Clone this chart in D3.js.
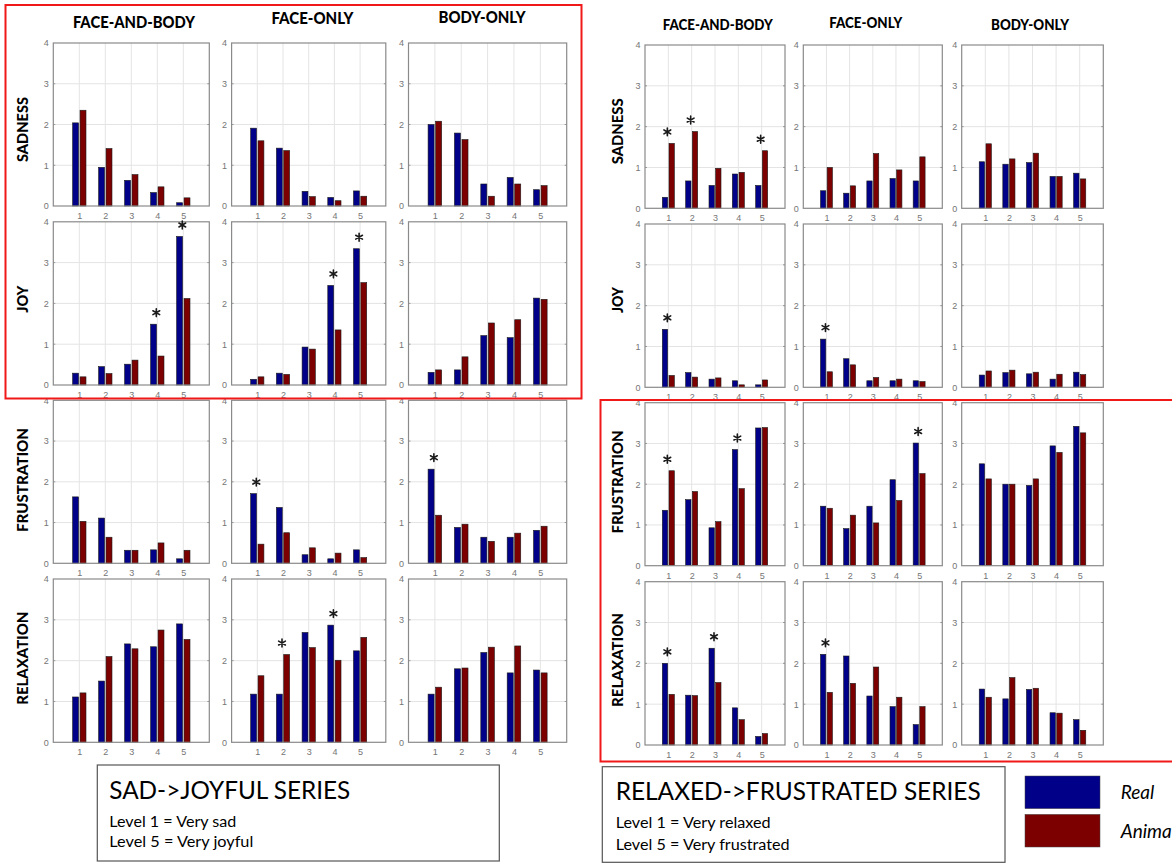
<!DOCTYPE html>
<html>
<head>
<meta charset="utf-8">
<script src="https://cdn.jsdelivr.net/npm/d3@7"></script>
<style>
  html, body { margin: 0; padding: 0; background: #ffffff; }
  svg { display: block; }
</style>
</head>
<body>
<svg id="chart" width="1172" height="863"></svg>
<script>
// ---------------- DATA ----------------
const levels = [1, 2, 3, 4, 5];
const conditions = ["FACE-AND-BODY", "FACE-ONLY", "BODY-ONLY"];
const emotions = ["SADNESS", "JOY", "FRUSTRATION", "RELAXATION"];
const yTicks = [0, 1, 2, 3, 4];
const seriesNames = ["Real", "Animated"];

// SAD->JOYFUL series, values indexed [condition][level]
const sjRealSadness      = [[2.04, 0.95, 0.63, 0.33, 0.08], [1.91, 1.42, 0.36, 0.21, 0.37], [2.00, 1.79, 0.54, 0.70, 0.40]];
const sjAnimSadness      = [[2.35, 1.41, 0.77, 0.47, 0.20], [1.60, 1.36, 0.23, 0.13, 0.24], [2.08, 1.63, 0.24, 0.54, 0.50]];
const sjRealJoy          = [[0.29, 0.45, 0.51, 1.49, 3.64], [0.14, 0.29, 0.93, 2.44, 3.34], [0.31, 0.37, 1.21, 1.16, 2.13]];
const sjAnimJoy          = [[0.20, 0.28, 0.61, 0.71, 2.12], [0.20, 0.26, 0.88, 1.35, 2.51], [0.37, 0.69, 1.52, 1.60, 2.10]];
const sjRealFrustration  = [[1.63, 1.11, 0.32, 0.33, 0.11], [1.71, 1.37, 0.21, 0.11, 0.33], [2.31, 0.88, 0.64, 0.64, 0.81]];
const sjAnimFrustration  = [[1.03, 0.64, 0.32, 0.50, 0.32], [0.47, 0.75, 0.38, 0.25, 0.14], [1.18, 0.96, 0.54, 0.74, 0.91]];
const sjRealRelaxation   = [[1.11, 1.50, 2.41, 2.34, 2.90], [1.18, 1.18, 2.69, 2.87, 2.24], [1.18, 1.80, 2.20, 1.70, 1.77]];
const sjAnimRelaxation   = [[1.21, 2.10, 2.29, 2.75, 2.52], [1.63, 2.15, 2.32, 2.01, 2.57], [1.35, 1.82, 2.33, 2.36, 1.70]];
// significant levels, indexed [emotion][condition]
const sjStars = [[[], [], []], [[4, 5], [4, 5], []], [[], [1], [1]], [[], [2, 4], []]];

// RELAXED->FRUSTRATED series
const rfRealSadness      = [[0.27, 0.67, 0.56, 0.84, 0.56], [0.43, 0.37, 0.67, 0.73, 0.67], [1.14, 1.08, 1.12, 0.78, 0.86]];
const rfAnimSadness      = [[1.59, 1.88, 0.98, 0.88, 1.41], [1.00, 0.55, 1.34, 0.94, 1.26], [1.58, 1.21, 1.35, 0.78, 0.72]];
const rfRealJoy          = [[1.42, 0.36, 0.20, 0.16, 0.06], [1.18, 0.70, 0.16, 0.16, 0.16], [0.30, 0.36, 0.33, 0.20, 0.37]];
const rfAnimJoy          = [[0.29, 0.25, 0.23, 0.06, 0.18], [0.38, 0.55, 0.24, 0.20, 0.14], [0.40, 0.42, 0.37, 0.32, 0.31]];
const rfRealFrustration  = [[1.36, 1.62, 0.93, 2.85, 3.38], [1.46, 0.91, 1.46, 2.11, 3.01], [2.50, 2.00, 1.97, 2.94, 3.42]];
const rfAnimFrustration  = [[2.33, 1.82, 1.08, 1.89, 3.39], [1.41, 1.24, 1.05, 1.60, 2.26], [2.13, 2.00, 2.13, 2.78, 3.26]];
const rfRealRelaxation   = [[2.00, 1.22, 2.37, 0.91, 0.21], [2.22, 2.18, 1.20, 0.94, 0.50], [1.37, 1.13, 1.36, 0.79, 0.62]];
const rfAnimRelaxation   = [[1.24, 1.21, 1.53, 0.62, 0.28], [1.29, 1.51, 1.91, 1.17, 0.94], [1.17, 1.65, 1.39, 0.78, 0.36]];
const rfStars = [[[1, 2, 5], [], []], [[1], [1], []], [[1, 4], [5], []], [[1, 3], [1], []]];

// ---------------- LAYOUT ----------------
const svg = d3.select("#chart");
svg.append("rect").attr("width", 1172).attr("height", 863).attr("fill", "#fff");

const BLUE = "#000088", RED = "#7d0000";
const TITLE_FONT = "Lato, 'Open Sans', sans-serif";
const TICK_FONT = "'Liberation Sans', Arial, sans-serif";

const groups = [
  {
    real: [sjRealSadness, sjRealJoy, sjRealFrustration, sjRealRelaxation],
    anim: [sjAnimSadness, sjAnimJoy, sjAnimFrustration, sjAnimRelaxation],
    stars: sjStars,
    cols: [[53.3, 209.3], [231.6, 385.8], [408.5, 566.7]],
    rows: [[43, 206], [221.8, 385], [400.3, 563.3], [579, 742.3]],
    colTitle: [{cx: 133.9, y: 28.3, len: 122}, {cx: 312.5, y: 24, len: 82}, {cx: 482, y: 22.7, len: 87}],
    titleSize: 16,
    rowLabel: {x: 28.3, ys: [129.5, 299.3, 480, 658.3], lens: [65, 27, 104, 93]}
  },
  {
    real: [rfRealSadness, rfRealJoy, rfRealFrustration, rfRealRelaxation],
    anim: [rfAnimSadness, rfAnimJoy, rfAnimFrustration, rfAnimRelaxation],
    stars: rfStars,
    cols: [[645, 785], [803.3, 942.3], [961.7, 1103.3]],
    rows: [[45, 208.3], [224, 387.3], [402.7, 565.7], [581.7, 745]],
    colTitle: [{cx: 717.7, y: 30, len: 110}, {cx: 865.7, y: 27.7, len: 73}, {cx: 1030, y: 30, len: 78}],
    titleSize: 15,
    rowLabel: {x: 623.3, ys: [131.3, 300, 482, 660], lens: [66, 26, 103, 94]}
  }
];

function drawPanel(g, cx, ry, real, anim, stars) {
  const x = d3.scaleLinear().domain([0, 6]).range(cx);
  const y = d3.scaleLinear().domain([0, 4]).range([ry[1], ry[0]]);
  const p = g.append("g");

  // grid
  p.selectAll("line.vg").data(levels).join("line")
    .attr("x1", d => x(d)).attr("x2", d => x(d))
    .attr("y1", y(0)).attr("y2", y(4))
    .attr("stroke", "#e4e4e4").attr("stroke-width", 1);
  p.selectAll("line.hg").data(yTicks.slice(1, -1)).join("line")
    .attr("x1", x(0)).attr("x2", x(6))
    .attr("y1", d => y(d)).attr("y2", d => y(d))
    .attr("stroke", "#e4e4e4").attr("stroke-width", 1);

  // small inner tick marks (MATLAB style)
  yTicks.slice(1, -1).forEach(t => {
    p.append("line").attr("x1", x(6) - 2).attr("x2", x(6)).attr("y1", y(t)).attr("y2", y(t))
      .attr("stroke", "#9a9a9a");
    p.append("line").attr("x1", x(0)).attr("x2", x(0) + 2).attr("y1", y(t)).attr("y2", y(t))
      .attr("stroke", "#9a9a9a");
  });

  // bars
  const half = 0.1429, bw = 0.2286;
  const w = x(bw) - x(0);
  p.selectAll("rect.real").data(levels).join("rect")
    .attr("x", d => x(d - half) - w / 2)
    .attr("y", (d, i) => y(real[i]))
    .attr("width", w)
    .attr("height", (d, i) => y(0) - y(real[i]))
    .attr("fill", BLUE).attr("stroke", "#1a1a1a").attr("stroke-width", 0.6);
  p.selectAll("rect.anim").data(levels).join("rect")
    .attr("x", d => x(d + half) - w / 2)
    .attr("y", (d, i) => y(anim[i]))
    .attr("width", w)
    .attr("height", (d, i) => y(0) - y(anim[i]))
    .attr("fill", RED).attr("stroke", "#1a1a1a").attr("stroke-width", 0.6);

  // frame
  p.append("rect")
    .attr("x", x(0)).attr("y", y(4))
    .attr("width", x(6) - x(0)).attr("height", y(0) - y(4))
    .attr("fill", "none").attr("stroke", "#8a8a8a").attr("stroke-width", 1.2);

  // axes (labels only)
  const ax = p.append("g").attr("transform", `translate(0,${y(0)})`)
    .call(d3.axisBottom(x).tickValues(levels).tickSize(0).tickPadding(6.5).tickFormat(d3.format("d")));
  const ay = p.append("g").attr("transform", `translate(${x(0)},0)`)
    .call(d3.axisLeft(y).tickValues(yTicks).tickSize(0).tickPadding(4.5).tickFormat(d3.format("d")));
  [ax, ay].forEach(a => {
    a.select(".domain").remove();
    a.selectAll("text").attr("fill", "#757575").attr("font-size", 9).attr("font-family", TICK_FONT);
  });

  // significance stars
  stars.forEach(l => {
    const i = levels.indexOf(l);
    const top = y(Math.max(real[i], anim[i])) - 11.5;
    const cxs = x(l) - 1;
    const r = 3.9;
    const path = d3.path();
    [90, 30, 150].forEach(a => {
      const rad = a * Math.PI / 180;
      path.moveTo(cxs - r * Math.cos(rad), top - r * Math.sin(rad));
      path.lineTo(cxs + r * Math.cos(rad), top + r * Math.sin(rad));
    });
    p.append("path").attr("d", path.toString())
      .attr("stroke", "#1a1a1a").attr("stroke-width", 1.6).attr("stroke-linecap", "round").attr("fill", "none");
  });
}

function addText(x, y, str, o) {
  const t = svg.append("text")
    .attr("x", x).attr("y", y)
    .attr("font-family", o.family || TITLE_FONT)
    .attr("font-size", o.size)
    .attr("font-weight", o.weight || 400)
    .attr("font-style", o.style || "normal")
    .attr("text-anchor", o.anchor || "start")
    .attr("fill", o.fill || "#000")
    .text(str);
  if (o.len) t.attr("textLength", o.len).attr("lengthAdjust", "spacingAndGlyphs");
  if (o.rotate) t.attr("transform", `rotate(${o.rotate},${x},${y})`);
  return t;
}

groups.forEach(G => {
  const g = svg.append("g");
  emotions.forEach((em, ei) => {
    conditions.forEach((c, ci) => {
      drawPanel(g, G.cols[ci], G.rows[ei], G.real[ei][ci], G.anim[ei][ci], G.stars[ei][ci]);
    });
    addText(G.rowLabel.x, G.rowLabel.ys[ei], em,
      {size: 15, weight: 900, anchor: "middle", rotate: -90, len: G.rowLabel.lens[ei]});
  });
  conditions.forEach((c, ci) => {
    const ct = G.colTitle[ci];
    addText(ct.cx, ct.y, c, {size: G.titleSize, weight: 900, anchor: "middle", len: ct.len});
  });
});

// red highlight boxes
svg.append("rect").attr("x", 5.5).attr("y", 5).attr("width", 576).attr("height", 393.5)
  .attr("fill", "none").attr("stroke", "#f01818").attr("stroke-width", 2);
svg.append("rect").attr("x", 600.5).attr("y", 400).attr("width", 590).attr("height", 361.5)
  .attr("fill", "none").attr("stroke", "#f01818").attr("stroke-width", 2);

// description boxes
svg.append("rect").attr("x", 97.3).attr("y", 765).attr("width", 402).attr("height", 96)
  .attr("fill", "#fff").attr("stroke", "#555").attr("stroke-width", 1.2);
svg.append("rect").attr("x", 602.3).attr("y", 766.7).attr("width", 402.7).attr("height", 95.6)
  .attr("fill", "#fff").attr("stroke", "#555").attr("stroke-width", 1.2);

addText(109.3, 799.3, "SAD->JOYFUL SERIES", {size: 25, len: 241});
addText(109.3, 826.7, "Level 1 = Very sad", {size: 14.5, len: 127});
addText(109.3, 846.7, "Level 5 = Very joyful", {size: 14.5, len: 144});

addText(615.7, 800, "RELAXED->FRUSTRATED SERIES", {size: 25, len: 365});
addText(615.7, 827.7, "Level 1 = Very relaxed", {size: 14.5, len: 155});
addText(615.7, 850, "Level 5 = Very frustrated", {size: 14.5, len: 174});

// legend
const legendColors = [BLUE, RED];
const legendY = d3.scaleBand().domain(seriesNames).range([776, 847]).paddingInner(0.15);
seriesNames.forEach((s, i) => {
  svg.append("rect").attr("x", 1025).attr("y", legendY(s)).attr("width", 75).attr("height", legendY.bandwidth())
    .attr("fill", legendColors[i]).attr("stroke", "#444").attr("stroke-width", 0.5);
  addText(1120.7, legendY(s) + legendY.bandwidth() / 2 + 7, s, {size: 19, style: "italic"});
});
</script>
</body>
</html>
